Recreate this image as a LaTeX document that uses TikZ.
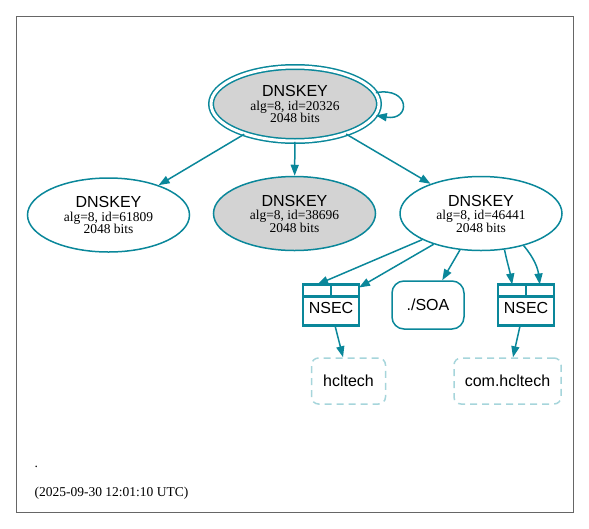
\documentclass[tikz,border=0pt]{standalone}
\usepackage{fontspec}
\setmainfont{Liberation Serif}
\setsansfont{Liberation Sans}
\usetikzlibrary{calc,arrows.meta,shapes.geometric}

\definecolor{dnsteal}{HTML}{0A879A}
\definecolor{dnslight}{HTML}{A6D5DB}
\definecolor{keygrey}{HTML}{D3D3D3}

\def\keytext#1{{\sffamily\fontsize{16}{17}\selectfont DNSKEY}\\[0pt]alg=8, id=#1\\[-1pt]2048 bits}

\tikzset{
	keynode/.style={ellipse, draw=dnsteal, line width=1.5pt, minimum width=162pt, minimum height=74pt, inner sep=0pt, align=center, font=\fontsize{13.5}{13.5}\selectfont},
	sepnode/.style={keynode, fill=keygrey},
	nsecbox/.style={rectangle, draw=dnsteal, line width=2.2pt, outer sep=0pt, minimum width=56pt, minimum height=41pt, inner sep=0pt, font=\sffamily\fontsize{16}{17}\selectfont},
	rrbox/.style={rectangle, draw=dnsteal, line width=1.5pt, rounded corners=12pt, minimum width=72pt, minimum height=48pt, inner sep=0pt, font=\sffamily\fontsize{16}{17}\selectfont},
	zonebox/.style={rectangle, draw=dnslight, line width=1.5pt, dash pattern=on 7pt off 5pt, rounded corners=7pt, minimum height=46pt, inner sep=0pt, font=\sffamily\fontsize{16}{17}\selectfont},
	link/.style={draw=dnsteal, line width=1.5pt, -{Triangle[length=11pt,width=8pt]}}
}

\begin{document}
\begin{tikzpicture}[x=1pt, y=-1pt]
		%%%%% START %%%%%
		
		\useasboundingbox (0, 0) rectangle (589, 528);
		\draw[line width=0.8pt, color=black!60] (16, 16) rectangle (573, 512);
		
		\node[sepnode, double=white, double distance=3pt, minimum width=168pt] (ksk) at (295, 104) {\keytext{20326}};
		\node[keynode] (zskA) at (108.5, 215) {\keytext{61809}};
		\node[sepnode] (zskB) at (294.5, 213.5) {\keytext{38696}};
		\node[keynode] (zskC) at (481, 213.5) {\keytext{46441}};
		
		\node[nsecbox] (nsecA) at (331, 305) {\raisebox{-8.3pt}[0pt][0pt]{NSEC}};
		\draw[line width=2.2pt, color=dnsteal] ($(nsecA.north west)+(0, 12)$) -- ($(nsecA.north east)+(0, 12)$);
		\draw[line width=2.2pt, color=dnsteal] (nsecA.north) -- ++(0, 12);
		
		\node[rrbox] (soa) at (428, 305) {./SOA};
		
		\node[nsecbox] (nsecB) at (526, 305) {\raisebox{-8.3pt}[0pt][0pt]{NSEC}};
		\draw[line width=2.2pt, color=dnsteal] ($(nsecB.north west)+(0, 12)$) -- ($(nsecB.north east)+(0, 12)$);
		\draw[line width=2.2pt, color=dnsteal] (nsecB.north) -- ++(0, 12);
		
		\node[zonebox, minimum width=74pt] (hcl) at (348.5, 381) {hcltech};
		\node[zonebox, minimum width=107pt] (comhcl) at (507.5, 381) {com.hcltech};
		
		\draw[link] (ksk.8) .. controls +(35, -6) and +(35, 6) .. (ksk.-8);
		\draw[link] (ksk) -- (zskA);
		\draw[link] (ksk) -- (zskB);
		\draw[link] (ksk) -- (zskC);
		
		\draw[link] (zskC.-156) -- (nsecA.124);
		\draw[link] (zskC.-147) -- (nsecA.32);
		\draw[link] (zskC.-120) -- (soa.60);
		\draw[link] (zskC.-57) to[out=-78, in=100] (nsecB.124);
		\draw[link] (zskC.-37) to[out=-50, in=97] (nsecB.56);
		
		\draw[link] (nsecA.-79) -- (hcl.103);
		\draw[link] (nsecB.-106) -- (comhcl.77);
		
		\node[anchor=west, font=\fontsize{13.5}{14}\selectfont] (dot) at (31, 467) {.};
		\node[anchor=west, font=\fontsize{13.5}{14}\selectfont] (stamp) at (31, 493) {(2025-09-30 12:01:10 UTC)};
		
		%%%%% END %%%%%
	\end{tikzpicture}
\end{document}
